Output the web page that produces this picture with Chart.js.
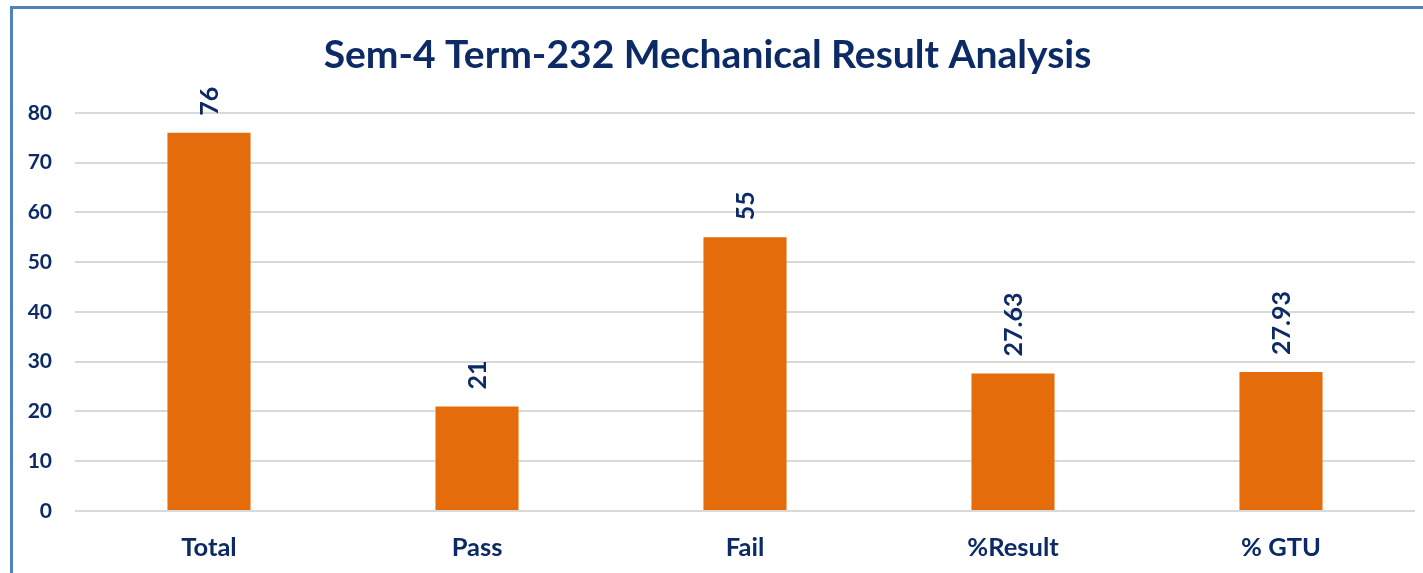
<!DOCTYPE html>
<html>
<head>
<meta charset="utf-8">
<script src="https://cdn.jsdelivr.net/npm/chart.js@4"></script>
<style>
  html, body { margin: 0; padding: 0; background: #fff; overflow: hidden; }
  #wrap { position: relative; width: 1423px; height: 573px; }
  #frame {
    position: absolute; left: 10px; top: 6px; width: 1500px; height: 700px;
    border-left: 3px solid #4F81BD; border-top: 3px solid #4F81BD;
    box-sizing: border-box; pointer-events: none;
  }
</style>
</head>
<body>
<div id="wrap">
  <canvas id="resultChart" width="1423" height="573"></canvas>
  <div id="frame"></div>
</div>
<script>
// chart data
const categories = ['Total', 'Pass', 'Fail', '%Result', '% GTU'];
const resultValues = [76, 21, 55, 27.63, 27.93];
const yTicks = [0, 10, 20, 30, 40, 50, 60, 70, 80];

const NAVY = '#0B2A66';
const ORANGE = '#E46C0A';

// draws the rotated value labels above each bar
const barValueLabels = {
    id: 'barValueLabels',
    afterDatasetsDraw(chart) {
        const ctx = chart.ctx;
        const meta = chart.getDatasetMeta(0);
        ctx.save();
        ctx.fillStyle = NAVY;
        ctx.font = 'bold 25px Lato';
        ctx.textAlign = 'left';
        ctx.textBaseline = 'middle';
        meta.data.forEach((bar, i) => {
            ctx.save();
            ctx.translate(bar.x, bar.y - 17);
            ctx.rotate(-Math.PI / 2);
            ctx.fillText(String(resultValues[i]), 0, 1);
            ctx.restore();
        });
        ctx.restore();
    }
};

const ctx = document.getElementById('resultChart').getContext('2d');
new Chart(ctx, {
    type: 'bar',
    data: {
        labels: categories,
        datasets: [{
            data: resultValues,
            backgroundColor: ORANGE,
            borderWidth: 0,
            barPercentage: 0.62,
            categoryPercentage: 0.5
        }]
    },
    options: {
        responsive: false,
        animation: false,
        layout: { padding: { left: 0, right: 8, top: 0, bottom: 0 } },
        plugins: {
            legend: { display: false },
            tooltip: { enabled: false },
            title: {
                display: true,
                text: 'Sem-4 Term-232 Mechanical Result Analysis',
                color: NAVY,
                font: { family: 'Lato', size: 39, weight: 'bold' },
                padding: { top: 32, bottom: 34 }
            }
        },
        scales: {
            x: {
                grid: { display: false, drawTicks: false },
                border: { display: false },
                ticks: {
                    color: NAVY,
                    font: { family: 'Lato', size: 25.5, weight: 'bold' },
                    padding: 21
                },
                afterFit(scale) { scale.height = 62; }
            },
            y: {
                min: 0,
                max: 80,
                afterBuildTicks(scale) { scale.ticks = yTicks.map(v => ({ value: v })); },
                grid: { color: '#D9D9D9', lineWidth: 2, drawTicks: false },
                border: { display: false },
                ticks: {
                    color: NAVY,
                    font: { family: 'Lato', size: 21, weight: 'bold' },
                    padding: 23
                },
                afterFit(scale) { scale.width = 75; }
            }
        }
    },
    plugins: [barValueLabels]
});
</script>
</body>
</html>
